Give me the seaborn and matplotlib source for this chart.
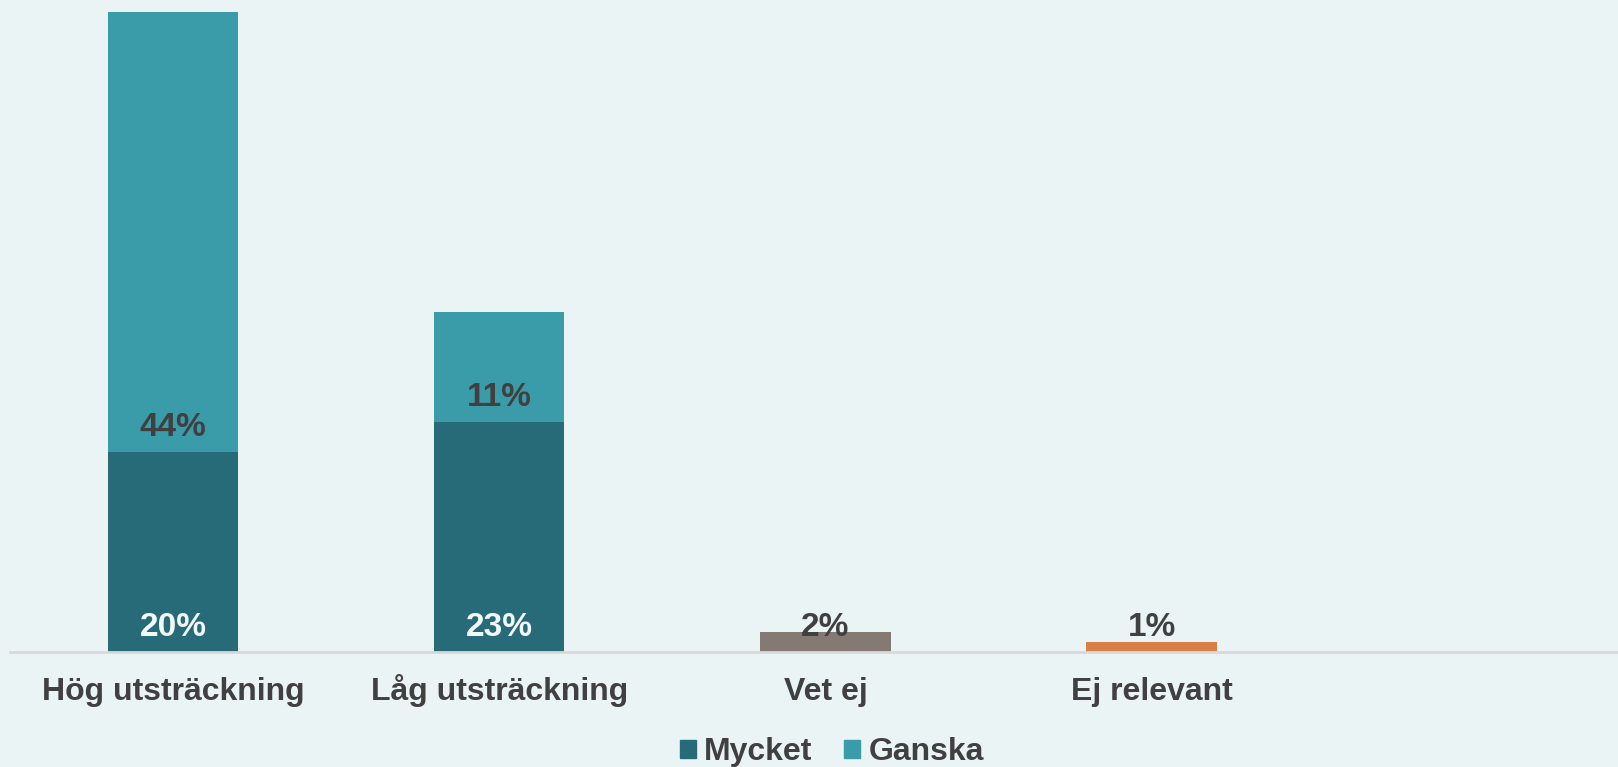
import matplotlib
matplotlib.use("Agg")
import matplotlib.pyplot as plt
import matplotlib.patches as mpatches
import seaborn as sns
import pandas as pd

# chart values
categories = ["Hög utsträckning", "Låg utsträckning", "Vet ej", "Ej relevant"]
mycket = [20, 23, None, None]
ganska = [44, 11, None, None]
other = [None, None, 2, 1]

bg = "#eaf4f5"
text_col = "#404040"
c_mycket = "#276b78"
c_ganska = "#3a9ba9"
c_other = {"Vet ej": "#847a74", "Ej relevant": "#d87f47"}

sns.set_theme(style="white")
plt.rcParams["font.family"] = ["Liberation Sans", "DejaVu Sans"]

df = pd.DataFrame({"cat": categories, "mycket": mycket, "ganska": ganska, "other": other})
df["total"] = df["mycket"] + df["ganska"]

fig = plt.figure(figsize=(16.18, 7.67), dpi=100, facecolor=bg)
ax = fig.add_axes([10 / 1618, 1 - 652 / 767, 1 - 10 / 1618, (652 - 12) / 767])
ax.set_facecolor(bg)

w = 0.40
kw = dict(order=categories, width=w, ax=ax, errorbar=None, saturation=1, linewidth=0)
sns.barplot(data=df, x="cat", y="total", color=c_ganska, **kw)
sns.barplot(data=df, x="cat", y="mycket", color=c_mycket, **kw)
sns.barplot(data=df, x="cat", y="other", hue="cat",
            palette={**c_other, "Hög utsträckning": c_mycket, "Låg utsträckning": c_mycket},
            legend=False, dodge=False, **kw)

for i, cat in enumerate(categories):
    row = df.iloc[i]
    if pd.notna(row["mycket"]):
        ax.annotate(f"{int(row['mycket'])}%", (i, 0), xytext=(0, 25),
                    textcoords="offset pixels", ha="center", va="center",
                    fontsize=24, fontweight="bold", color="#f2f7f8")
        ax.annotate(f"{int(row['ganska'])}%", (i, row["mycket"]), xytext=(0, 24),
                    textcoords="offset pixels", ha="center", va="center",
                    fontsize=24, fontweight="bold", color=text_col)
    if pd.notna(row["other"]):
        ax.annotate(f"{int(row['other'])}%", (i, 0), xytext=(0, 24),
                    textcoords="offset pixels", ha="center", va="center",
                    fontsize=24, fontweight="bold", color=text_col)

ax.set_ylim(0, 64)
ax.set_xlim(-0.5, 4.43)
ax.set_xlabel("")
ax.set_ylabel("")
ax.set_yticks([])
ax.tick_params(axis="x", length=0, pad=34.5, labelsize=23, labelcolor=text_col)
for lab in ax.get_xticklabels():
    lab.set_fontweight("bold")
    lab.set_va("baseline")
for s in ["top", "right", "left"]:
    ax.spines[s].set_visible(False)
ax.spines["bottom"].set_color("#d9d9d9")
ax.spines["bottom"].set_linewidth(2)

handles = [mpatches.Patch(color=c_mycket, label="Mycket"),
           mpatches.Patch(color=c_ganska, label="Ganska")]
leg = fig.legend(handles=handles, loc="center", bbox_to_anchor=(832 / 1618, 1 - 752 / 767),
                 ncol=2, frameon=False, handlelength=0.5, handleheight=0.5,
                 handletextpad=0.25, columnspacing=1.0,
                 prop={"size": 23, "weight": "bold"})
for t in leg.get_texts():
    t.set_color(text_col)

fig.savefig("out.png", dpi=100, facecolor=bg)
